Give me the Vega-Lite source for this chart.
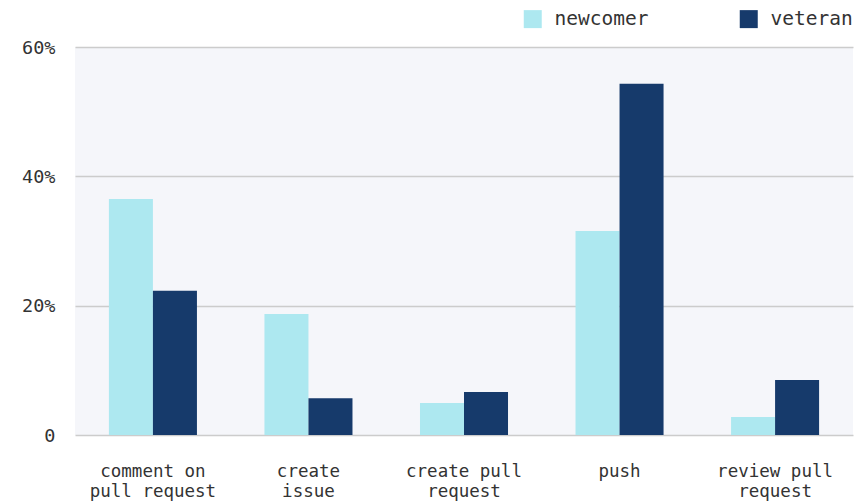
{
  "$schema": "https://vega.github.io/schema/vega-lite/v6.json",
  "width": 778,
  "height": 388,
  "autosize": {"type": "none"},
  "padding": {"left": 75, "top": 47, "right": 14, "bottom": 66},
  "background": "#ffffff",
  "config": {
    "font": "DejaVu Sans Mono",
    "view": {"fill": "#f5f6fa", "stroke": null}
  },
  "data": {
    "values": [
      {"action": "comment on pull request", "group": "newcomer", "share": 0.365},
      {"action": "comment on pull request", "group": "veteran", "share": 0.223},
      {"action": "create issue", "group": "newcomer", "share": 0.187},
      {"action": "create issue", "group": "veteran", "share": 0.057},
      {"action": "create pull request", "group": "newcomer", "share": 0.0495},
      {"action": "create pull request", "group": "veteran", "share": 0.0665},
      {"action": "push", "group": "newcomer", "share": 0.3155},
      {"action": "push", "group": "veteran", "share": 0.543},
      {"action": "review pull request", "group": "newcomer", "share": 0.028},
      {"action": "review pull request", "group": "veteran", "share": 0.085}
    ]
  },
  "mark": {"type": "bar"},
  "encoding": {
    "x": {
      "field": "action",
      "type": "nominal",
      "sort": null,
      "scale": {"paddingInner": 0.434, "paddingOuter": 0.218},
      "axis": {
        "title": null,
        "labelAngle": 0,
        "domain": false,
        "ticks": false,
        "labelFontSize": 17.5,
        "labelColor": "#333333",
        "labelPadding": 27,
        "labelLineHeight": 20,
        "labelBaseline": "top",
        "labelExpr": "datum.label == 'comment on pull request' ? ['comment on', 'pull request'] : datum.label == 'create issue' ? ['create', 'issue'] : datum.label == 'create pull request' ? ['create pull', 'request'] : datum.label == 'review pull request' ? ['review pull', 'request'] : datum.label"
      }
    },
    "xOffset": {"field": "group", "type": "nominal", "scale": {"paddingInner": 0}},
    "y": {
      "field": "share",
      "type": "quantitative",
      "scale": {"domain": [0, 0.6], "nice": false},
      "axis": {
        "title": null,
        "values": [0, 0.2, 0.4, 0.6],
        "domain": false,
        "ticks": false,
        "labelFontSize": 18.5,
        "labelColor": "#333333",
        "labelPadding": 20,
        "gridColor": "#cccccc",
        "gridWidth": 1.5,
        "labelExpr": "datum.value == 0 ? '0' : format(datum.value, '.0%')"
      }
    },
    "color": {
      "field": "group",
      "type": "nominal",
      "scale": {"domain": ["newcomer", "veteran"], "range": ["#ade8f0", "#163a6b"]},
      "legend": {
        "title": null,
        "orient": "none",
        "direction": "horizontal",
        "legendX": 448,
        "legendY": -38,
        "symbolType": "square",
        "symbolSize": 324,
        "symbolStrokeWidth": 0,
        "labelFontSize": 19.5,
        "labelColor": "#333333",
        "labelOffset": 12,
        "columnPadding": 90
      }
    }
  }
}
